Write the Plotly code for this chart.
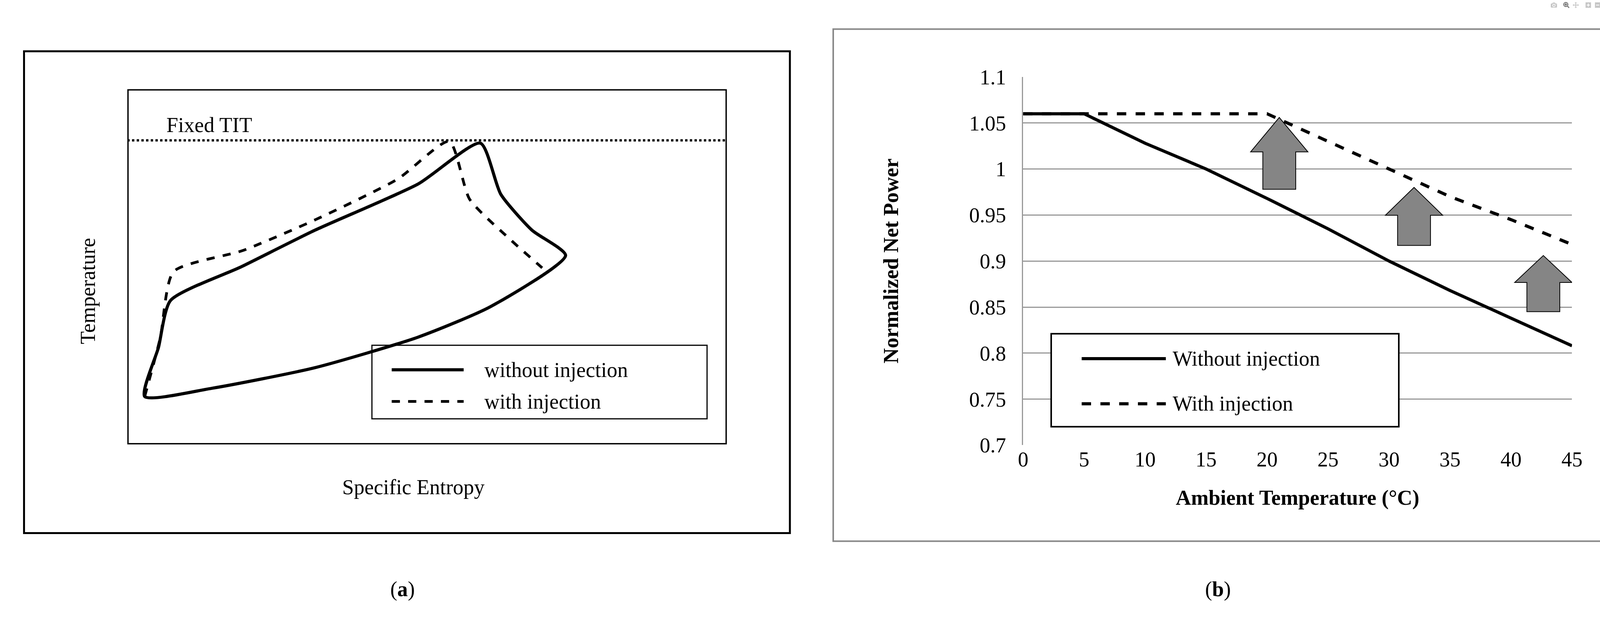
import plotly.graph_objects as go

W, H = 4184, 1610
FONT = "Liberation Serif"

# Panel (a): T-s diagram, normalized coordinates
s_without = [0.029, 0.052, 0.072, 0.19, 0.313, 0.485, 0.589, 0.623, 0.675, 0.731, 0.606, 0.485, 0.313, 0.141, 0.029]
t_without = [0.135, 0.273, 0.405, 0.50, 0.603, 0.733, 0.848, 0.704, 0.603, 0.532, 0.388, 0.302, 0.216, 0.158, 0.135]
s_with = [0.029, 0.055, 0.077, 0.193, 0.313, 0.451, 0.537, 0.571, 0.640, 0.692]
t_with = [0.135, 0.300, 0.486, 0.546, 0.632, 0.747, 0.853, 0.690, 0.575, 0.497]
tit_level = 0.856

# Panel (b)
amb_temp = [0, 5, 10, 15, 20, 25, 30, 35, 40, 45]
power_without = [1.06, 1.06, 1.028, 1.0, 0.968, 0.935, 0.9, 0.868, 0.838, 0.808]
power_with = [1.06, 1.06, 1.06, 1.06, 1.06, 1.03, 1.0, 0.97, 0.945, 0.918]
arrow_x = [21.0, 32.05, 42.65]
arrow_tip = [1.056, 0.98, 0.906]
arrow_base = [0.978, 0.917, 0.845]


def py(yr):
    """pixel row (from top) -> paper fraction, with small empirical correction"""
    d = yr / 2.668
    corr = (10 - (d - 50) * 8 / 480) * 2.668
    return 1 - (yr - corr) / H


fig = go.Figure()
fig.add_trace(go.Scatter(x=s_without, y=t_without, mode="lines", line=dict(color="black", width=8, shape="spline", smoothing=0.6), xaxis="x", yaxis="y", showlegend=False))
fig.add_trace(go.Scatter(x=s_with, y=t_with, mode="lines", line=dict(color="black", width=7, dash="dash", shape="spline", smoothing=0.6), xaxis="x", yaxis="y", showlegend=False))
fig.add_trace(go.Scatter(x=amb_temp, y=power_without, mode="lines", line=dict(color="black", width=8), xaxis="x2", yaxis="y2", showlegend=False))
fig.add_trace(go.Scatter(x=amb_temp, y=power_with, mode="lines", line=dict(color="black", width=8, dash="dash"), xaxis="x2", yaxis="y2", showlegend=False))

shapes = []
shapes.append(dict(type="rect", xref="paper", yref="paper", x0=48/W, x1=2028/W, y0=py(1393), y1=py(133), line=dict(color="black", width=5)))
shapes.append(dict(type="rect", xref="paper", yref="paper", x0=2140/W, x1=4136/W, y0=py(1414), y1=py(75), line=dict(color="#888888", width=4)))
shapes.append(dict(type="rect", xref="x", yref="y", x0=0, x1=1, y0=0, y1=1, line=dict(color="black", width=7)))
shapes.append(dict(type="line", xref="x", yref="y", x0=0, x1=1, y0=tit_level, y1=tit_level, line=dict(color="black", width=6, dash="dot")))
shapes.append(dict(type="rect", xref="x", yref="y", x0=0.408, x1=0.967, y0=0.072, y1=0.279, line=dict(color="black", width=3), fillcolor="white", layer="below"))
shapes.append(dict(type="line", xref="x", yref="y", x0=0.441, x1=0.561, y0=0.210, y1=0.210, line=dict(color="black", width=8)))
shapes.append(dict(type="line", xref="x", yref="y", x0=0.441, x1=0.561, y0=0.121, y1=0.121, line=dict(color="black", width=7, dash="dash")))
for ax, tip, base in zip(arrow_x, arrow_tip, arrow_base):
    hw, sw = 2.35, 1.35
    hb = base + (tip - base) * 0.52
    path = (f"M {ax-sw},{base} L {ax+sw},{base} L {ax+sw},{hb} L {ax+hw},{hb} "
            f"L {ax},{tip} L {ax-hw},{hb} L {ax-sw},{hb} Z")
    shapes.append(dict(type="path", xref="x2", yref="y2", path=path, fillcolor="#858585", line=dict(color="black", width=2)))
shapes.append(dict(type="rect", xref="x2", yref="y2", x0=2.3, x1=30.8, y0=0.720, y1=0.821, line=dict(color="black", width=4), fillcolor="white"))
shapes.append(dict(type="line", xref="x2", yref="y2", x0=4.8, x1=11.7, y0=0.794, y1=0.794, line=dict(color="black", width=8)))
shapes.append(dict(type="line", xref="x2", yref="y2", x0=4.8, x1=11.7, y0=0.745, y1=0.745, line=dict(color="black", width=8, dash="dash")))

ann = []
def txt(t, x, y, xref="paper", yref="paper", size=54, xanchor="center", angle=0):
    ann.append(dict(text=t, x=x, y=y, xref=xref, yref=yref, showarrow=False, font=dict(family=FONT, size=size, color="black"),
                    xanchor=xanchor, yanchor="middle", textangle=angle))

txt("Fixed TIT", 0.064, 0.899, "x", "y", xanchor="left")
txt("without injection", 0.594, 0.210, "x", "y", xanchor="left")
txt("with injection", 0.594, 0.121, "x", "y", xanchor="left")
txt("Temperature", 213/W, py(760), angle=-90)
txt("Specific Entropy", 1054/W, py(1273))
txt("Without injection", 12.2, 0.794, "x2", "y2", xanchor="left")
txt("With injection", 12.2, 0.745, "x2", "y2", xanchor="left")
txt("<b>Normalized Net Power</b>", 2289/W, py(681), angle=-90)
txt("<b>Ambient Temperature (°C)</b>", 3341/W, py(1300))
txt("(<b>a</b>)", 1027/W, py(1540))
txt("(<b>b</b>)", 3135/W, py(1540))

fig.update_layout(
    width=W, height=H, margin=dict(l=0, r=0, t=0, b=0),
    paper_bgcolor="white", plot_bgcolor="rgba(0,0,0,0)",
    font=dict(family=FONT, size=54, color="black"),
    shapes=shapes, annotations=ann,
    xaxis=dict(domain=[315/W, 1865/W], range=[0, 1], visible=False),
    yaxis=dict(domain=[py(1161), py(232)], range=[0, 1], visible=False),
    xaxis2=dict(domain=[2631/W, 4050/W], range=[0, 45], tickvals=list(range(0, 50, 5)), showgrid=False, zeroline=False,
                showline=False, ticks="", tickfont=dict(size=54), anchor="y2"),
    yaxis2=dict(domain=[py(1163), py(200)], range=[0.7, 1.1], tickvals=[0.7, 0.75, 0.8, 0.85, 0.9, 0.95, 1, 1.05, 1.1],
                ticktext=["0.7", "0.75", "0.8", "0.85", "0.9", "0.95", "1", "1.05", "1.1"],
                showgrid=True, gridcolor="#999999", gridwidth=3, zeroline=False, showline=True, linecolor="#999999", linewidth=3,
                ticks="", ticklabelstandoff=30, tickfont=dict(size=54), anchor="x2"),
)
fig.write_html("out.html", post_script="document.body.style.margin='0';document.body.style.overflow='hidden';")
